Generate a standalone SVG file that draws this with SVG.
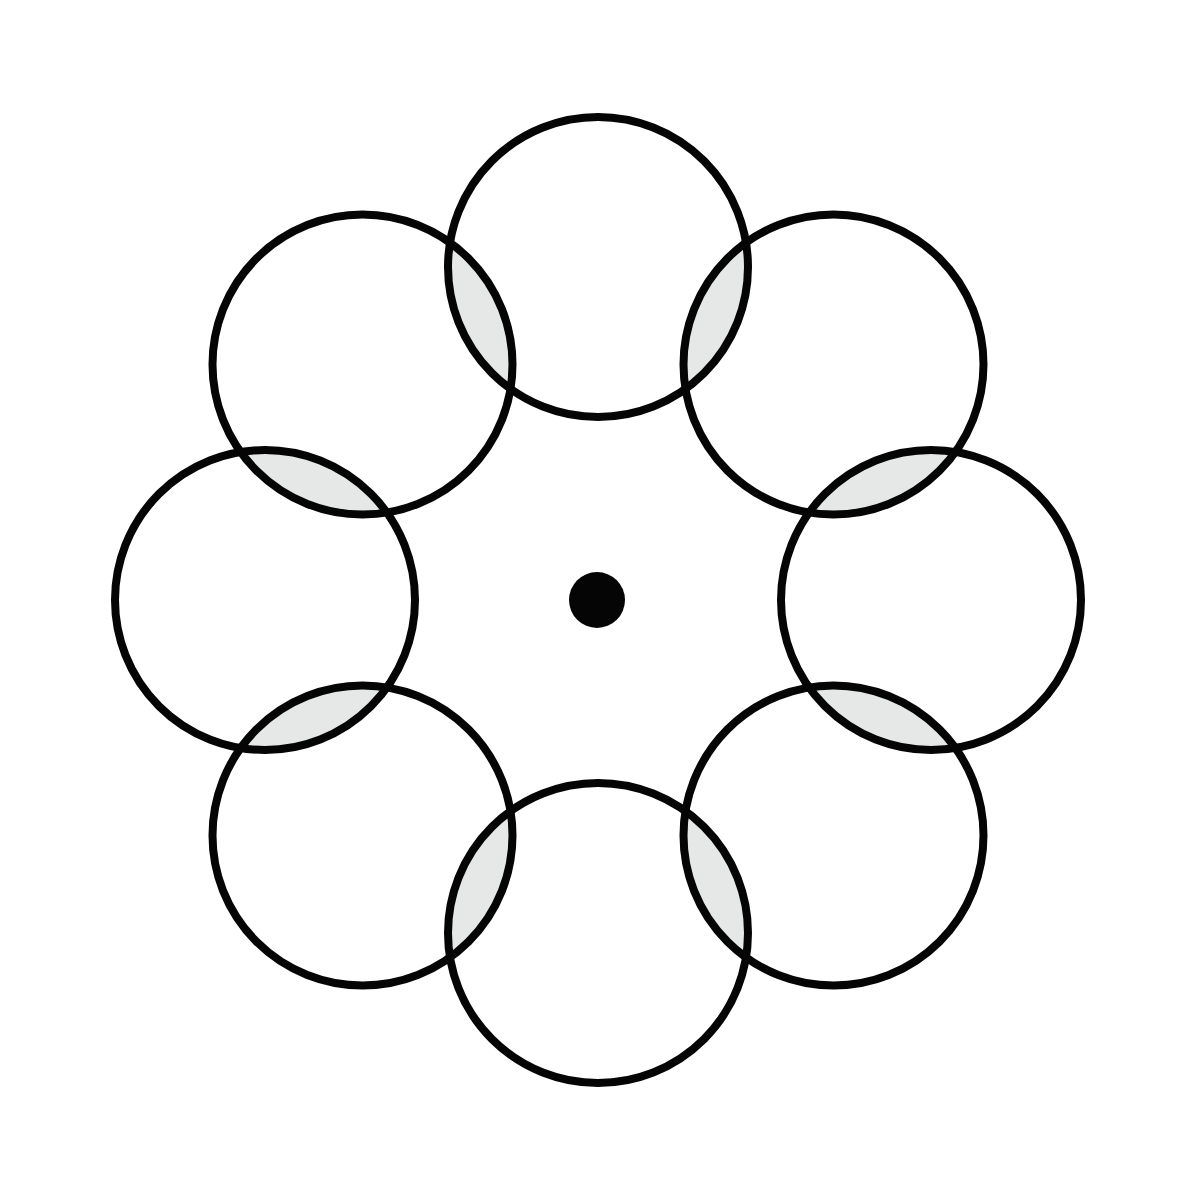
<svg xmlns="http://www.w3.org/2000/svg" xmlns:xlink="http://www.w3.org/1999/xlink" width="1200" height="1200" viewBox="0 0 1200 1200">
<style>
.ring{fill:none;stroke:#050505;stroke-width:8}
.lens{fill:#e6e7e7}
</style>
<defs>
<circle id="c0" cx="598" cy="267" r="150"/>
<circle id="c1" cx="833.5" cy="364.5" r="150"/>
<circle id="c2" cx="931" cy="600" r="150"/>
<circle id="c3" cx="833.5" cy="835.5" r="150"/>
<circle id="c4" cx="598" cy="933" r="150"/>
<circle id="c5" cx="362.5" cy="835.5" r="150"/>
<circle id="c6" cx="265" cy="600" r="150"/>
<circle id="c7" cx="362.5" cy="364.5" r="150"/>
<clipPath id="k0"><use xlink:href="#c0"/></clipPath>
<clipPath id="k1"><use xlink:href="#c1"/></clipPath>
<clipPath id="k2"><use xlink:href="#c2"/></clipPath>
<clipPath id="k3"><use xlink:href="#c3"/></clipPath>
<clipPath id="k4"><use xlink:href="#c4"/></clipPath>
<clipPath id="k5"><use xlink:href="#c5"/></clipPath>
<clipPath id="k6"><use xlink:href="#c6"/></clipPath>
<clipPath id="k7"><use xlink:href="#c7"/></clipPath>
</defs>
<rect width="1200" height="1200" fill="#fff"/>
<g id="lenses">
<use xlink:href="#c1" class="lens" clip-path="url(#k0)"/>
<use xlink:href="#c2" class="lens" clip-path="url(#k1)"/>
<use xlink:href="#c3" class="lens" clip-path="url(#k2)"/>
<use xlink:href="#c4" class="lens" clip-path="url(#k3)"/>
<use xlink:href="#c5" class="lens" clip-path="url(#k4)"/>
<use xlink:href="#c6" class="lens" clip-path="url(#k5)"/>
<use xlink:href="#c7" class="lens" clip-path="url(#k6)"/>
<use xlink:href="#c0" class="lens" clip-path="url(#k7)"/>
</g>
<g id="circle-top"><use xlink:href="#c0" class="ring"/></g>
<g id="circle-top-right"><use xlink:href="#c1" class="ring"/></g>
<g id="circle-right"><use xlink:href="#c2" class="ring"/></g>
<g id="circle-bottom-right"><use xlink:href="#c3" class="ring"/></g>
<g id="circle-bottom"><use xlink:href="#c4" class="ring"/></g>
<g id="circle-bottom-left"><use xlink:href="#c5" class="ring"/></g>
<g id="circle-left"><use xlink:href="#c6" class="ring"/></g>
<g id="circle-top-left"><use xlink:href="#c7" class="ring"/></g>
<g id="center-dot"><circle cx="597" cy="600" r="28" fill="#050505"/></g>
</svg>
